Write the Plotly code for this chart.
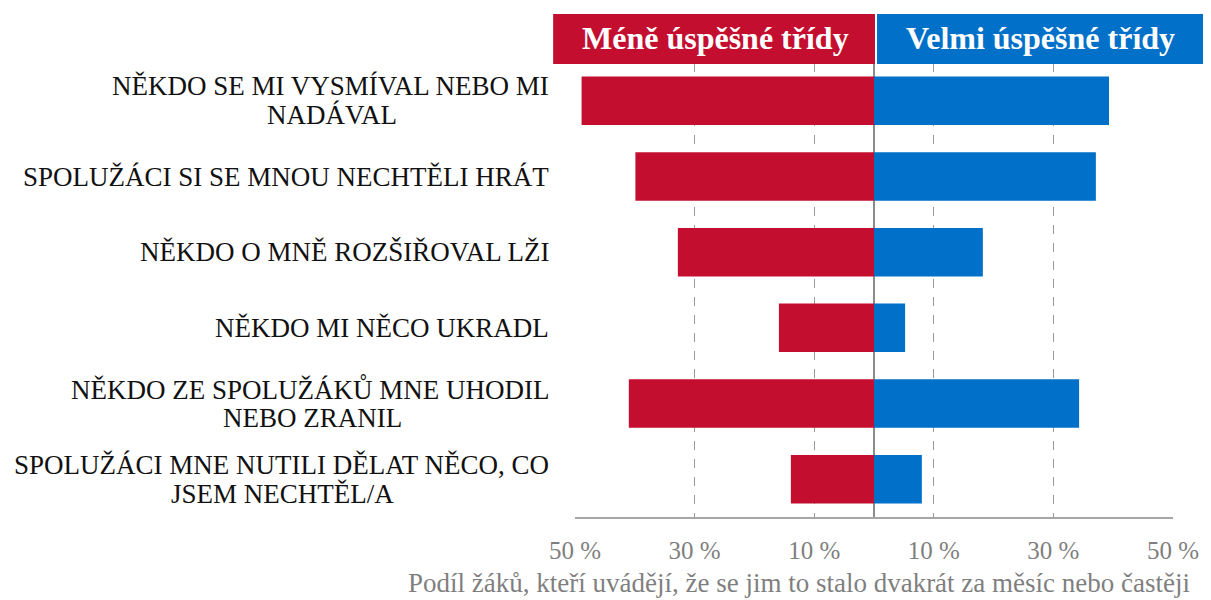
import plotly.graph_objects as go

categories = [
    "NĚKDO SE MI VYSMÍVAL NEBO MI<br>NADÁVAL",
    "SPOLUŽÁCI SI SE MNOU NECHTĚLI HRÁT",
    "NĚKDO O MNĚ ROZŠIŘOVAL LŽI",
    "NĚKDO MI NĚCO UKRADL",
    "NĚKDO ZE SPOLUŽÁKŮ MNE UHODIL<br>NEBO ZRANIL",
    "SPOLUŽÁCI MNE NUTILI DĚLAT NĚCO, CO<br>JSEM NECHTĚL/A",
]
less_successful = [48.9, 39.9, 32.8, 15.9, 41.0, 13.9]
very_successful = [39.3, 37.1, 18.2, 5.2, 34.3, 8.0]
series_names = ["Méně úspěšné třídy", "Velmi úspěšné třídy"]
tick_values = [-50, -30, -10, 10, 30, 50]
tick_labels = ["50 %", "30 %", "10 %", "10 %", "30 %", "50 %"]
axis_title = "Podíl žáků, kteří uvádějí, že se jim to stalo dvakrát za měsíc nebo častěji"

RED = "#C40E2F"
BLUE = "#0070C9"
SERIF = "Liberation Serif"

OFF = 8  # default page body margin
W, H = 1211 - OFF, 600 - OFF
ML = 575 - OFF
MT = 63 - OFF
MR = W - (1177 - OFF)
MB = H - (517 - OFF)
PW, PH = W - ML - MR, H - MT - MB


def px_x(sx):
    return (sx - OFF - ML) / PW


def px_y(sy):
    return (MT + PH - (sy - OFF)) / PH


ypos = list(range(len(categories)))

fig = go.Figure()
fig.add_trace(go.Bar(
    y=ypos, x=[-v for v in less_successful], orientation="h",
    name=series_names[0], marker=dict(color=RED, line=dict(width=0)),
    width=0.64, customdata=less_successful,
    hovertemplate="%{customdata} %<extra>" + series_names[0] + "</extra>",
))
fig.add_trace(go.Bar(
    y=ypos, x=very_successful, orientation="h",
    name=series_names[1], marker=dict(color=BLUE, line=dict(width=0)),
    width=0.64,
    hovertemplate="%{x} %<extra>" + series_names[1] + "</extra>",
))

# category labels: right aligned block, second line centred under the first
LABEL_RIGHT = 551
LINE_GAP = 29
first_line_width_px = {0: 442, 4: 480, 5: 540}

annotations = []
for i, c in enumerate(categories):
    lines = c.split("<br>")
    n = len(lines)
    for j, line in enumerate(lines):
        if j == 0:
            ax, anchor = px_x(LABEL_RIGHT), "right"
        else:
            ax, anchor = px_x(LABEL_RIGHT - first_line_width_px.get(i, 0) / 2), "center"
        annotations.append(dict(
            xref="paper", yref="y", x=ax, y=i, text=line, showarrow=False,
            xanchor=anchor, yanchor="middle",
            yshift=-(j - (n - 1) / 2) * LINE_GAP,
            font=dict(family=SERIF, size=27, color="#111111"),
        ))

# header boxes
shapes = [
    dict(type="rect", xref="paper", yref="paper",
         x0=px_x(553), x1=px_x(877), y0=px_y(64), y1=px_y(14),
         fillcolor=RED, line=dict(width=0), layer="above"),
    dict(type="rect", xref="paper", yref="paper",
         x0=px_x(879), x1=px_x(1209), y0=px_y(64), y1=px_y(14),
         fillcolor=BLUE, line=dict(width=0), layer="above"),
]
annotations.append(dict(
    xref="paper", yref="paper", x=px_x(716), y=px_y(38), text="<b>" + series_names[0] + "</b>",
    showarrow=False, xanchor="center", yanchor="middle",
    font=dict(family=SERIF, size=32, color="white"),
))
annotations.append(dict(
    xref="paper", yref="paper", x=px_x(1044), y=px_y(38), text="<b>" + series_names[1] + "</b>",
    showarrow=False, xanchor="center", yanchor="middle",
    font=dict(family=SERIF, size=32, color="white"),
))
annotations.append(dict(
    xref="paper", yref="paper", x=px_x(800), y=px_y(583), text=axis_title,
    showarrow=False, xanchor="center", yanchor="middle",
    font=dict(family=SERIF, size=27, color="#7f7f7f"),
))

fig.update_layout(
    width=W, height=H,
    margin=dict(l=ML, r=MR, t=MT, b=MB, pad=0),
    barmode="relative",
    showlegend=False,
    plot_bgcolor="white", paper_bgcolor="white",
    shapes=shapes, annotations=annotations,
    xaxis=dict(
        range=[-50, 50], tickvals=tick_values, ticktext=tick_labels,
        showgrid=True, gridcolor="#9a9a9a", griddash="dash", gridwidth=1,
        zeroline=True, zerolinecolor="#8c8c8c", zerolinewidth=1.5,
        showline=True, linecolor="#A6A6A6", linewidth=1.5,
        ticks="", ticklabelstandoff=10,
        tickfont=dict(family=SERIF, size=25, color="#7f7f7f"),
        fixedrange=True,
    ),
    yaxis=dict(
        range=[len(categories) - 0.5, -0.5], showticklabels=False,
        showgrid=False, zeroline=False, showline=False, fixedrange=True,
    ),
)

fig.write_html("out.html")
